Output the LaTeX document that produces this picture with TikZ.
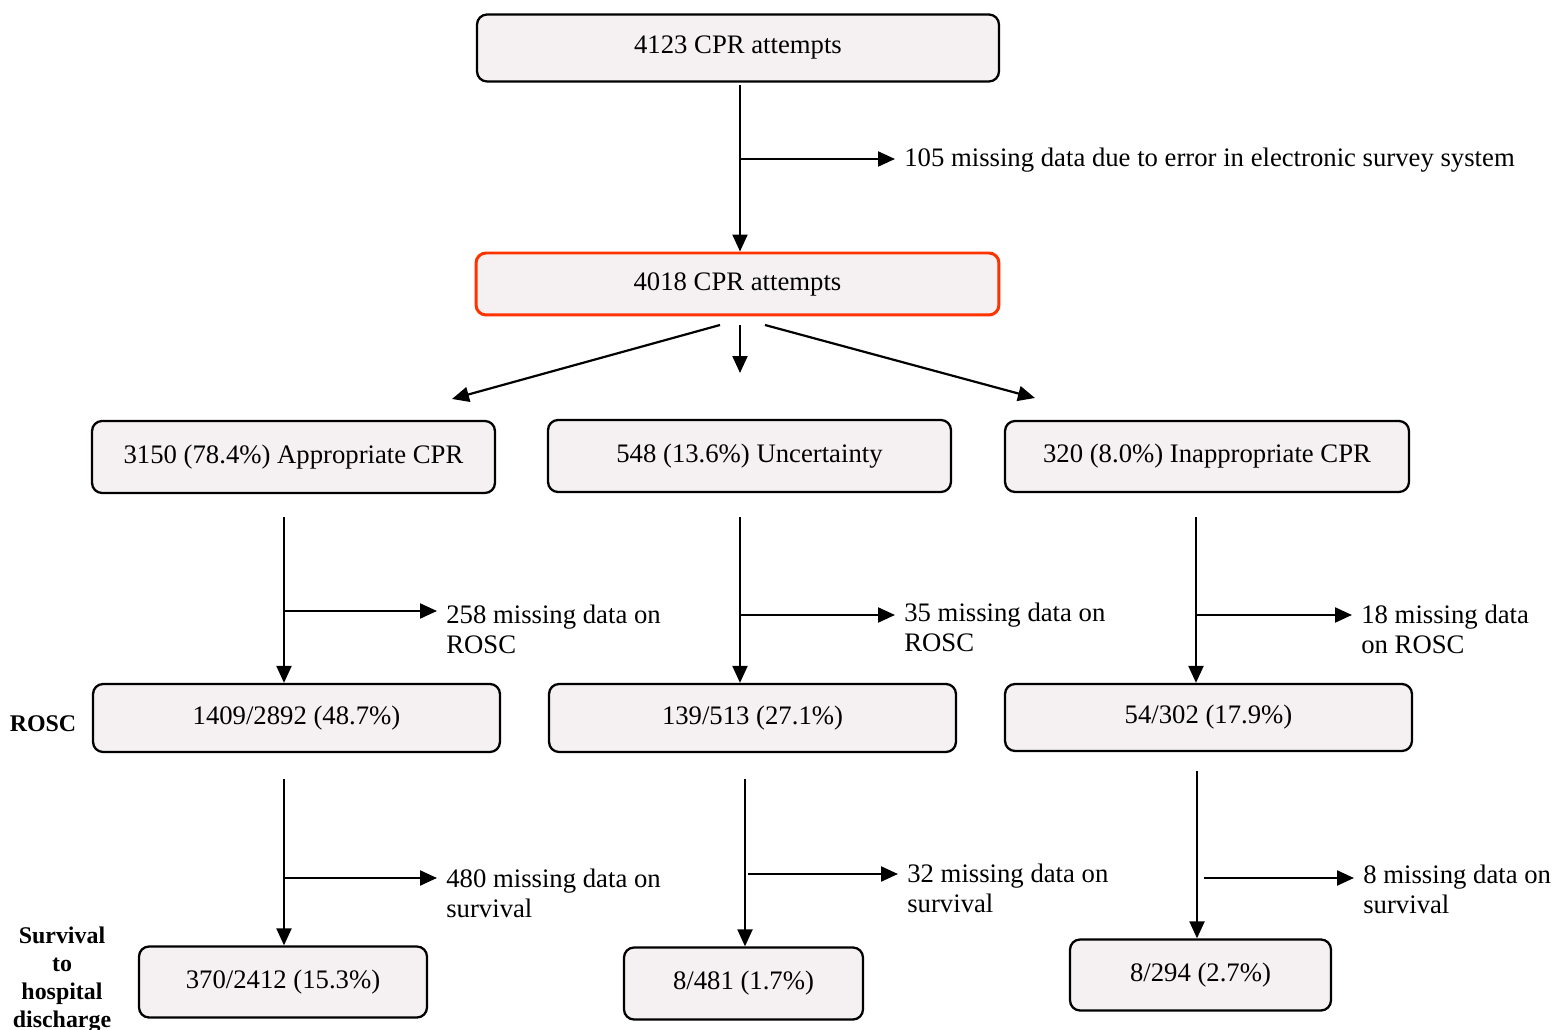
\documentclass[tikz,border=0pt]{standalone}
\usepackage{fontspec}
\setmainfont{Liberation Serif}
\usetikzlibrary{arrows.meta}
\definecolor{boxfill}{RGB}{245,241,243}
\definecolor{boxred}{RGB}{255,51,0}

\begin{document}
\begin{tikzpicture}[x=0.02cm,y=-0.02cm,
    box/.style={draw,line width=1.3pt,rounded corners=0.2cm,fill=boxfill,font=\fontsize{15.2}{17}\selectfont},
    lab/.style={font=\fontsize{15.2}{17}\selectfont,align=left,inner xsep=0.18cm,inner ysep=0.1cm},
    side/.style={font=\fontsize{13.6}{16}\selectfont\bfseries,align=center},
    arr/.style={-{Triangle[length=0.34cm,width=0.3cm]},line width=1.25pt}]
    \useasboundingbox (0,0) rectangle (1553,1030);
    \draw[] (738,48) node[box,minimum width=10.44cm,minimum height=1.34cm] (top) {4123 CPR attempts};
    \draw[] (737.5,284) node[box,draw=boxred,line width=1.7pt,minimum width=10.46cm,minimum height=1.24cm] (mid) {4018 CPR attempts};
    \draw[] (895,160) node[lab,anchor=west] (miss0) {105 missing data due to error in electronic survey system};
    \draw[] (293.5,457) node[box,minimum width=8.06cm,minimum height=1.44cm] (appr) {3150 (78.4\%) Appropriate CPR};
    \draw[] (749.5,456) node[box,minimum width=8.06cm,minimum height=1.44cm] (unc) {548 (13.6\%) Uncertainty};
    \draw[] (1207,456.5) node[box,minimum width=8.08cm,minimum height=1.42cm] (inappr) {320 (8.0\%) Inappropriate CPR};
    \draw[] (296.5,718) node[box,minimum width=8.14cm,minimum height=1.36cm] (roscA) {1409/2892 (48.7\%)};
    \draw[] (752.5,718) node[box,minimum width=8.14cm,minimum height=1.36cm] (roscB) {139/513 (27.1\%)};
    \draw[] (1208.5,717.5) node[box,minimum width=8.14cm,minimum height=1.34cm] (roscC) {54/302 (17.9\%)};
    \draw[] (283,982) node[box,minimum width=5.76cm,minimum height=1.42cm] (survA) {370/2412 (15.3\%)};
    \draw[] (743.5,983.5) node[box,minimum width=4.78cm,minimum height=1.44cm] (survB) {8/481 (1.7\%)};
    \draw[] (1200.5,975) node[box,minimum width=5.22cm,minimum height=1.42cm] (survC) {8/294 (2.7\%)};
    \draw[] (437,600) node[lab,anchor=north west] (missA1) {258 missing data on\\ROSC};
    \draw[] (895,598) node[lab,anchor=north west] (missB1) {35 missing data on\\ROSC};
    \draw[] (1352,600) node[lab,anchor=north west] (missC1) {18 missing data\\on ROSC};
    \draw[] (437,864) node[lab,anchor=north west] (missA2) {480 missing data on\\survival};
    \draw[] (898,859) node[lab,anchor=north west] (missB2) {32 missing data on\\survival};
    \draw[] (1354,860) node[lab,anchor=north west] (missC2) {8 missing data on\\survival};
    \draw[] (43,724) node[side] (roscLab) {ROSC};
    \draw[] (62,980) node[side] (survLab) {Survival\\to\\hospital\\discharge};
    \coordinate (t0) at (740,85);
    \coordinate (t1) at (740,159);
    \draw[arr] (t0) -- (t0 |- mid.north);
    \draw[arr] (t1) -- (t1 -| miss0.west);
    \coordinate (fL) at (720,325);
    \coordinate (fLe) at (452,399);
    \coordinate (fM) at (740,325);
    \coordinate (fMe) at (740,373);
    \coordinate (fR) at (765,325);
    \coordinate (fRe) at (1035,398);
    \draw[arr] (fL) -- (fLe);
    \draw[arr] (fM) -- (fMe);
    \draw[arr] (fR) -- (fRe);
    \coordinate (vA1) at (284,517);
    \coordinate (bA1) at (284,611);
    \coordinate (vB1) at (740,517);
    \coordinate (bB1) at (740,615);
    \coordinate (vC1) at (1196,517);
    \coordinate (bC1) at (1196,615);
    \draw[arr] (vA1) -- (vA1 |- roscA.north);
    \draw[arr] (bA1) -- (bA1 -| missA1.west);
    \draw[arr] (vB1) -- (vB1 |- roscB.north);
    \draw[arr] (bB1) -- (bB1 -| missB1.west);
    \draw[arr] (vC1) -- (vC1 |- roscC.north);
    \draw[arr] (bC1) -- (bC1 -| missC1.west);
    \coordinate (vA2) at (284,779);
    \coordinate (bA2) at (284,878);
    \coordinate (vB2) at (745,779);
    \coordinate (bB2) at (748,874);
    \coordinate (vC2) at (1197,771);
    \coordinate (bC2) at (1204,878);
    \draw[arr] (vA2) -- (vA2 |- survA.north);
    \draw[arr] (bA2) -- (bA2 -| missA2.west);
    \draw[arr] (vB2) -- (vB2 |- survB.north);
    \draw[arr] (bB2) -- (bB2 -| missB2.west);
    \draw[arr] (vC2) -- (vC2 |- survC.north);
    \draw[arr] (bC2) -- (bC2 -| missC2.west);
\end{tikzpicture}
\end{document}
